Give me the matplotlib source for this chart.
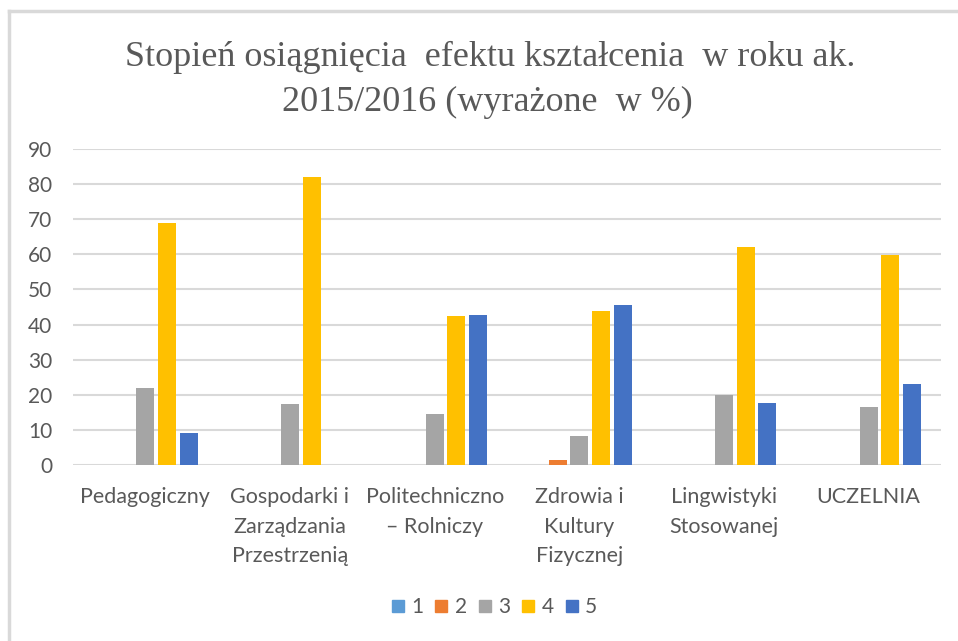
import numpy as np
import matplotlib
matplotlib.use('Agg')
import matplotlib.pyplot as plt
from matplotlib.lines import Line2D

# dane
categories = ['Pedagogiczny', 'Gospodarki i\nZarządzania\nPrzestrzenią', 'Politechniczno\n– Rolniczy',
              'Zdrowia i\nKultury\nFizycznej', 'Lingwistyki\nStosowanej', 'UCZELNIA']
series_names = ['1', '2', '3', '4', '5']
s1 = [0, 0, 0, 0, 0, 0]
s2 = [0, 0, 0, 1.4, 0, 0]
s3 = [21.8, 17.4, 14.5, 8.3, 20.0, 16.4]
s4 = [68.9, 82.0, 42.3, 43.8, 62.0, 59.8]
s5 = [9.0, 0, 42.6, 45.6, 17.7, 23.0]
colors = ['#5B9BD5', '#ED7D31', '#A5A5A5', '#FFC000', '#4472C4']

text_color = '#595959'
grid_color = '#D9D9D9'

fig = plt.figure(figsize=(9.58, 6.41), dpi=100)
ax = fig.add_axes([73/958, 176/641, 868/958, 316/641])

x = np.arange(len(categories))
slot = 0.15
width = 0.125
for i, vals in enumerate([s1, s2, s3, s4, s5]):
    ax.bar(x + (i - 2) * slot, vals, width, color=colors[i], label=series_names[i], zorder=3)

ax.set_xlim(-0.5, len(categories) - 0.5)
ax.set_ylim(0, 90)
ax.set_yticks(range(0, 100, 10))
ax.set_xticks(x)
ax.set_xticklabels(categories, fontsize=15.5, color=text_color, family='Lato', linespacing=1.6,
                   ha='center', multialignment='center')
for lbl in ax.get_yticklabels():
    lbl.set_fontsize(15)
    lbl.set_color(text_color)
    lbl.set_family('Lato')
ax.tick_params(axis='y', length=0, pad=15)
ax.tick_params(axis='x', length=0, pad=16)
for sp in ax.spines.values():
    sp.set_visible(False)
ax.grid(axis='y', color=grid_color, linewidth=1.5, zorder=0)

# tytuł - dwie linie
fig.text(490/958, 1 - 57/641, 'Stopień osiągnięcia  efektu kształcenia  w roku ak.',
         ha='center', va='center', fontsize=26, family='Liberation Serif', color=text_color)
fig.text(487/958, 1 - 102/641, '2015/2016 (wyrażone  w %)',
         ha='center', va='center', fontsize=26, family='Liberation Serif', color=text_color)

handles = [Line2D([], [], marker='s', linestyle='none', markersize=9, color=c) for c in colors]
leg = fig.legend(handles, series_names, loc='center', bbox_to_anchor=(494/958, 1 - 607/641), ncol=5, frameon=False,
                 prop={'family': 'Lato', 'size': 15}, handletextpad=0.3, columnspacing=0.5, handlelength=0.7)
for t in leg.get_texts():
    t.set_color(text_color)

# ramka wykresu (górna i lewa krawędź)
fig.add_artist(Line2D([9/958, 1], [1 - 11/641, 1 - 11/641], color=grid_color, linewidth=2.5))
fig.add_artist(Line2D([9/958, 9/958], [0, 1 - 11/641], color=grid_color, linewidth=2.5))

fig.savefig('out.png', dpi=100, facecolor='white')
